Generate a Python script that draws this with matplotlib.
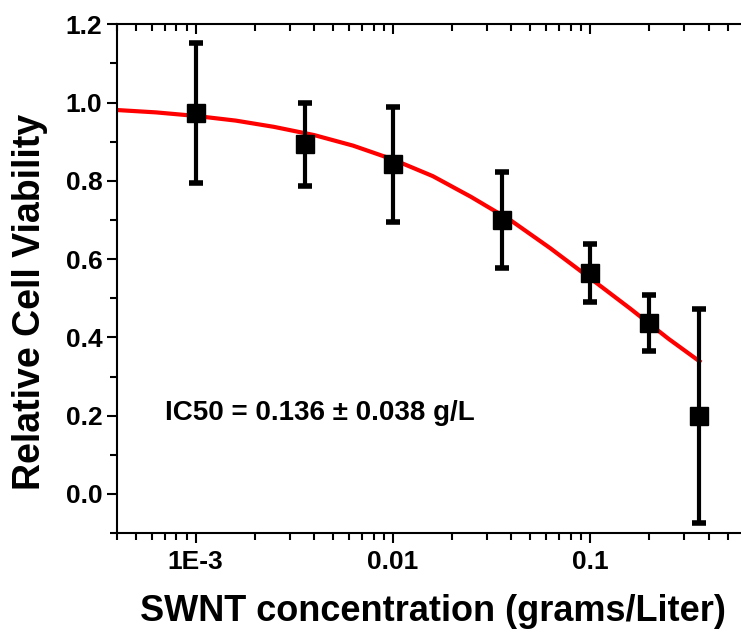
import matplotlib
matplotlib.use("Agg")
import matplotlib.pyplot as plt
from matplotlib.ticker import LogLocator, FixedLocator, NullFormatter

plt.rcParams['font.family'] = ['Liberation Sans', 'DejaVu Sans']
plt.rcParams['font.weight'] = 'bold'

# measured points
conc = [1e-3, 3.6e-3, 1e-2, 3.6e-2, 0.1, 0.2, 0.36]
viability = [0.973, 0.893, 0.842, 0.700, 0.564, 0.437, 0.199]
err = [0.179, 0.107, 0.148, 0.123, 0.074, 0.071, 0.273]

# fitted curve
fit_x = [4e-4, 6.3e-4, 1e-3, 1.6e-3, 2.5e-3, 4e-3, 6.3e-3, 0.01,
         0.016, 0.025, 0.04, 0.063, 0.1, 0.16, 0.25, 0.36]
fit_y = [0.981, 0.975, 0.966, 0.954, 0.938, 0.917, 0.890, 0.855,
         0.812, 0.759, 0.698, 0.628, 0.552, 0.474, 0.397, 0.339]

xticks = [1e-3, 1e-2, 0.1]
xticklabels = ['1E-3', '0.01', '0.1']
yticks = [0.0, 0.2, 0.4, 0.6, 0.8, 1.0, 1.2]

fig = plt.figure(figsize=(7.41, 6.4), dpi=100)
ax = fig.add_axes([0.158, 0.167, 0.845, 0.795])

ax.plot(fit_x, fit_y, color='red', lw=3, zorder=2, solid_joinstyle='round')
ax.errorbar(conc, viability, yerr=err, fmt='s', color='black', ms=13,
            elinewidth=3, capsize=5, capthick=4, zorder=3)

ax.set_xscale('log')
ax.set_xlim(4e-4, 0.6)
ax.set_ylim(-0.1, 1.2)

ax.xaxis.set_major_locator(FixedLocator(xticks))
ax.set_xticklabels(xticklabels)
ax.xaxis.set_minor_locator(LogLocator(base=10, subs=range(2, 10), numticks=20))
ax.xaxis.set_minor_formatter(NullFormatter())
ax.set_yticks(yticks)
ax.set_yticklabels(['%.1f' % v for v in yticks])
ax.yaxis.set_minor_locator(FixedLocator([-0.1, 0.1, 0.3, 0.5, 0.7, 0.9, 1.1]))

ax.spines['right'].set_visible(False)
for s in ['left', 'bottom', 'top']:
    ax.spines[s].set_linewidth(1.5)

ax.tick_params(axis='both', which='major', labelsize=19, width=1.5, length=7, direction='out')
ax.tick_params(axis='both', which='minor', width=1.5, length=5, direction='out')
ax.tick_params(axis='x', which='both', top=True)
ax.tick_params(axis='y', which='both', right=False)
ax.tick_params(axis='x', which='both', pad=5)

# top axis ticks point inwards
for t in ax.xaxis.get_major_ticks() + ax.xaxis.get_minor_ticks():
    t.tick2line.set_marker(matplotlib.markers.TICKDOWN)

ax.set_xlabel('SWNT concentration (grams/Liter)', fontsize=26, fontweight='bold')
ax.set_ylabel('Relative Cell Viability', fontsize=27, fontweight='bold')
ax.xaxis.set_label_coords(0.505, -0.155)
ax.yaxis.set_label_coords(-0.139, 0.454)
ax.xaxis.label.set_va('center')
ax.yaxis.label.set_va('center')

ax.text(7e-4, 0.207, 'IC50 = 0.136 ± 0.038 g/L', fontsize=20,
        fontweight='bold', va='center', ha='left')

fig.savefig('out.png', dpi=100)
